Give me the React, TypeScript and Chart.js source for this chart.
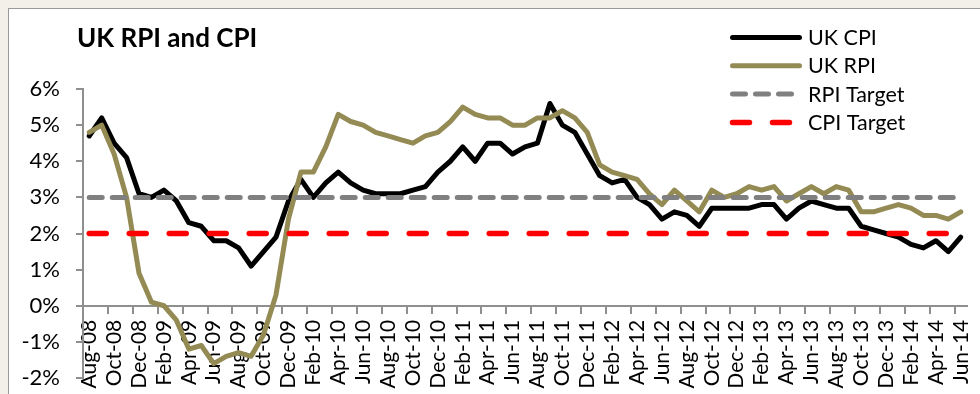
import React, { useEffect, useRef } from 'react';
import { Chart, registerables } from 'chart.js';

Chart.register(...registerables);

const TITLE = 'UK RPI and CPI';

const MONTHS = [
  'Aug-08', 'Sep-08', 'Oct-08', 'Nov-08', 'Dec-08',
  'Jan-09', 'Feb-09', 'Mar-09', 'Apr-09', 'May-09', 'Jun-09', 'Jul-09', 'Aug-09', 'Sep-09', 'Oct-09', 'Nov-09', 'Dec-09',
  'Jan-10', 'Feb-10', 'Mar-10', 'Apr-10', 'May-10', 'Jun-10', 'Jul-10', 'Aug-10', 'Sep-10', 'Oct-10', 'Nov-10', 'Dec-10',
  'Jan-11', 'Feb-11', 'Mar-11', 'Apr-11', 'May-11', 'Jun-11', 'Jul-11', 'Aug-11', 'Sep-11', 'Oct-11', 'Nov-11', 'Dec-11',
  'Jan-12', 'Feb-12', 'Mar-12', 'Apr-12', 'May-12', 'Jun-12', 'Jul-12', 'Aug-12', 'Sep-12', 'Oct-12', 'Nov-12', 'Dec-12',
  'Jan-13', 'Feb-13', 'Mar-13', 'Apr-13', 'May-13', 'Jun-13', 'Jul-13', 'Aug-13', 'Sep-13', 'Oct-13', 'Nov-13', 'Dec-13',
  'Jan-14', 'Feb-14', 'Mar-14', 'Apr-14', 'May-14', 'Jun-14',
];

const UK_CPI = [
  4.7, 5.2, 4.5, 4.1, 3.1,
  3.0, 3.2, 2.9, 2.3, 2.2, 1.8, 1.8, 1.6, 1.1, 1.5, 1.9, 2.9,
  3.5, 3.0, 3.4, 3.7, 3.4, 3.2, 3.1, 3.1, 3.1, 3.2, 3.3, 3.7,
  4.0, 4.4, 4.0, 4.5, 4.5, 4.2, 4.4, 4.5, 5.6, 5.0, 4.8, 4.2,
  3.6, 3.4, 3.5, 3.0, 2.8, 2.4, 2.6, 2.5, 2.2, 2.7, 2.7, 2.7,
  2.7, 2.8, 2.8, 2.4, 2.7, 2.9, 2.8, 2.7, 2.7, 2.2, 2.1, 2.0,
  1.9, 1.7, 1.6, 1.8, 1.5, 1.9,
];

const UK_RPI = [
  4.8, 5.0, 4.2, 3.0, 0.9,
  0.1, 0.0, -0.4, -1.2, -1.1, -1.6, -1.4, -1.3, -1.4, -0.8, 0.3, 2.4,
  3.7, 3.7, 4.4, 5.3, 5.1, 5.0, 4.8, 4.7, 4.6, 4.5, 4.7, 4.8,
  5.1, 5.5, 5.3, 5.2, 5.2, 5.0, 5.0, 5.2, 5.2, 5.4, 5.2, 4.8,
  3.9, 3.7, 3.6, 3.5, 3.1, 2.8, 3.2, 2.9, 2.6, 3.2, 3.0, 3.1,
  3.3, 3.2, 3.3, 2.9, 3.1, 3.3, 3.1, 3.3, 3.2, 2.6, 2.6, 2.7,
  2.8, 2.7, 2.5, 2.5, 2.4, 2.6,
];

const RPI_TARGET_VALUE = 3;
const CPI_TARGET_VALUE = 2;
const RPI_TARGET = MONTHS.map(() => RPI_TARGET_VALUE);
const CPI_TARGET = MONTHS.map(() => CPI_TARGET_VALUE);

const Y_MIN = -2;
const Y_MAX = 6;
const Y_STEP = 1;

const FONT = 'Lato, "Open Sans", sans-serif';
const AXIS = '#8f8f8f';

const overlayPlugin = {
  id: 'overlay',
  afterDraw(chart: any) {
    const ctx = chart.ctx;
    ctx.save();
    ctx.fillStyle = '#000';
    ctx.textBaseline = 'alphabetic';
    ctx.textAlign = 'left';
    ctx.font = `bold 26px ${FONT}`;
    ctx.fillText(TITLE, 77, 47);

    const rows = [0, 1, 2, 3];
    ctx.font = `21.5px ${FONT}`;
    rows.forEach((r) => {
      const ds = chart.data.datasets[r];
      const y = 37.5 + r * 28.3;
      ctx.save();
      ctx.beginPath();
      ctx.strokeStyle = ds.borderColor;
      ctx.lineWidth = ds.borderWidth;
      ctx.lineCap = 'round';
      ctx.setLineDash(ds.borderDash || []);
      ctx.moveTo(732.5, y);
      ctx.lineTo(799.5, y);
      ctx.stroke();
      ctx.restore();
      ctx.fillStyle = '#000';
      ctx.fillText(ds.label, 808, y + 7.5);
    });
    ctx.restore();
  },
};

export default function App() {
  const ref = useRef<HTMLCanvasElement | null>(null);

  useEffect(() => {
    if (!ref.current) return;
    const chart = new Chart(ref.current, {
      type: 'line',
      data: {
        labels: MONTHS,
        datasets: [
          {
            label: 'UK CPI',
            data: UK_CPI,
            borderColor: '#000000',
            borderWidth: 5,
            pointRadius: 0,
            tension: 0,
            borderJoinStyle: 'round',
            borderCapStyle: 'round',
            order: 4,
          },
          {
            label: 'UK RPI',
            data: UK_RPI,
            borderColor: '#948a54',
            borderWidth: 5,
            pointRadius: 0,
            tension: 0,
            borderJoinStyle: 'round',
            borderCapStyle: 'round',
            order: 3,
          },
          {
            label: 'RPI Target',
            data: RPI_TARGET,
            borderColor: '#808080',
            borderWidth: 5,
            borderDash: [13, 10],
            borderCapStyle: 'round',
            pointRadius: 0,
            tension: 0,
            order: 2,
          },
          {
            label: 'CPI Target',
            data: CPI_TARGET,
            borderColor: '#ff0000',
            borderWidth: 5.5,
            borderDash: [17, 23],
            borderCapStyle: 'round',
            pointRadius: 0,
            tension: 0,
            order: 1,
          },
        ] as any,
      },
      options: {
        responsive: false,
        animation: false,
        devicePixelRatio: 1,
        layout: { padding: { top: 89, bottom: 16, left: 0, right: 13 } },
        plugins: {
          legend: { display: false },
          title: { display: false },
          tooltip: { enabled: false },
        },
        scales: {
          x: {
            type: 'category',
            position: { y: 0 } as any,
            offset: true,
            grid: {
              offset: true,
              drawOnChartArea: false,
              drawTicks: true,
              tickLength: 7,
              lineWidth: 2,
              color: (c: any) =>
                c.index !== undefined && c.index % 2 === 0 ? AXIS : 'rgba(0,0,0,0)',
            },
            border: { display: true, color: AXIS, width: 2 },
            ticks: {
              autoSkip: false,
              minRotation: 90,
              maxRotation: 90,
              padding: 7,
              color: '#000',
              font: { family: FONT, size: 21 },
              callback: (_v: any, i: number) => (i % 2 === 0 ? MONTHS[i] : ''),
            },
            afterFit: (s: any) => {
              s.paddingLeft = 0;
              s.paddingRight = 0;
            },
          },
          y: {
            min: Y_MIN,
            max: Y_MAX,
            grid: {
              drawOnChartArea: false,
              drawTicks: true,
              tickLength: 7,
              lineWidth: 2,
              color: AXIS,
            },
            border: { display: true, color: AXIS, width: 2 },
            ticks: {
              stepSize: Y_STEP,
              padding: 16,
              color: '#000',
              font: { family: FONT, size: 22 },
              callback: (v: any) => `${v}%`,
            },
            afterFit: (s: any) => {
              s.width = 83;
              s.paddingTop = 0;
              s.paddingBottom = 0;
            },
          },
        },
      },
      plugins: [overlayPlugin],
    });
    return () => chart.destroy();
  }, []);

  return (
    <div
      style={{
        position: 'fixed',
        left: 0,
        top: 0,
        width: 980,
        height: 394,
        overflow: 'hidden',
        background: '#f3f0e9',
      }}
    >
      <div
        style={{
          position: 'absolute',
          left: 8,
          top: 8,
          width: 1000,
          height: 420,
          background: '#ffffff',
          border: '1px solid #9a9a9a',
        }}
      />
      <canvas
        ref={ref}
        width={980}
        height={394}
        style={{ position: 'absolute', left: 0, top: 0, width: 980, height: 394 }}
      />
    </div>
  );
}
